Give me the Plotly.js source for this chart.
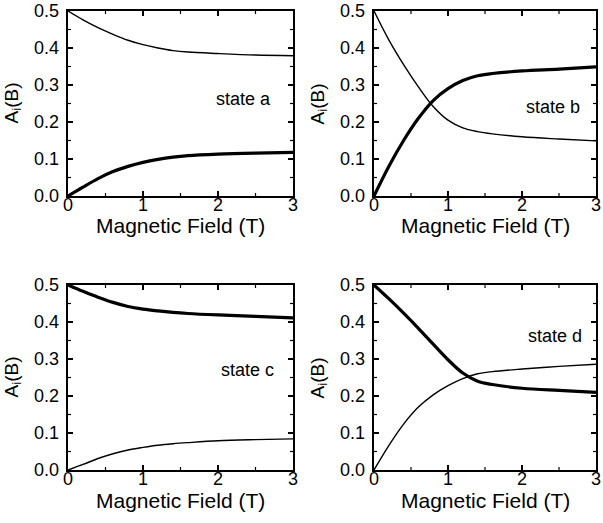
<!DOCTYPE html>
<html>
<head>
<meta charset="utf-8">
<script src="https://cdn.plot.ly/plotly-3.0.1.min.js"></script>
<style>html,body{margin:0;padding:0;background:#fff;}#chart{width:603px;height:523px;}</style>
</head>
<body>
<div id="chart"></div>
<script>
// Magnetic field values (T)
const fieldB = [0, 0.2, 0.4, 0.6, 0.8, 1.0, 1.2, 1.4, 1.6, 2.0, 2.5, 3.0];

// state a
const stateAThin  = [0.500, 0.476, 0.455, 0.437, 0.421, 0.409, 0.400, 0.393, 0.389, 0.385, 0.381, 0.379];
const stateAThick = [0.000, 0.024, 0.047, 0.066, 0.080, 0.091, 0.099, 0.105, 0.109, 0.113, 0.116, 0.118];
// state b
const stateBThin  = [0.500, 0.422, 0.355, 0.295, 0.242, 0.205, 0.184, 0.174, 0.168, 0.160, 0.154, 0.149];
const stateBThick = [0.000, 0.080, 0.150, 0.210, 0.258, 0.290, 0.312, 0.325, 0.331, 0.338, 0.343, 0.349];
// state c
const stateCThick = [0.500, 0.483, 0.467, 0.453, 0.442, 0.435, 0.430, 0.426, 0.423, 0.419, 0.415, 0.411];
const stateCThin  = [0.000, 0.015, 0.031, 0.044, 0.054, 0.061, 0.067, 0.071, 0.074, 0.079, 0.082, 0.084];
// state d
const stateDThick = [0.500, 0.463, 0.424, 0.383, 0.340, 0.298, 0.262, 0.240, 0.231, 0.221, 0.215, 0.210];
const stateDThin  = [0.000, 0.066, 0.124, 0.170, 0.203, 0.228, 0.247, 0.260, 0.266, 0.273, 0.280, 0.286];

const stateLabels = ['state a', 'state b', 'state c', 'state d'];
const labelX = [2.34, 2.42, 2.39, 2.45];
const labelY = [0.262, 0.24, 0.269, 0.362];

// tick values
const xMajorTicks = [0, 1, 2, 3];
const xMinorTicks = [0.5, 1.5, 2.5];
const yMajorTicks = [0, 0.1, 0.2, 0.3, 0.4, 0.5];
const yMinorTicks = [0.05, 0.15, 0.25, 0.35, 0.45];

const xTitle = 'Magnetic Field (T)';
const yTitle = 'A<sub>i</sub>(B)';

const FONT = 'Liberation Sans, Arial, Helvetica, sans-serif';
const THICK = 3.2, THIN = 1.4;
const MAJ = 5, MIN = 3;
const W = 603, H = 523;

function tr(y, w, xa, ya) {
  return {x: fieldB, y: y, xaxis: xa, yaxis: ya, mode: 'lines',
    line: {color: '#000', width: w, shape: 'spline', smoothing: 1},
    hoverinfo: 'skip', showlegend: false};
}

const data = [
  tr(stateAThin, THIN, 'x', 'y'), tr(stateAThick, THICK, 'x', 'y'),
  tr(stateBThin, THIN, 'x2', 'y2'), tr(stateBThick, THICK, 'x2', 'y2'),
  tr(stateCThick, THICK, 'x3', 'y3'), tr(stateCThin, THIN, 'x3', 'y3'),
  tr(stateDThick, THICK, 'x4', 'y4'), tr(stateDThin, THIN, 'x4', 'y4')
];

function xax(domain, anchor) {
  return {domain: domain, anchor: anchor, range: [0, 3],
    tickmode: 'array', tickvals: xMajorTicks, ticktext: xMajorTicks.map(String),
    ticks: 'inside', ticklen: MAJ, tickwidth: 1.5, tickcolor: '#000',
    showline: true, linewidth: 2.4, linecolor: '#000', mirror: 'allticks',
    showgrid: false, zeroline: false, layer: 'above traces',
    tickfont: {family: FONT, size: 18, color: '#000'},
    ticklabelstandoff: -9,
    title: {text: ''}};
}
function yax(domain, anchor) {
  return {domain: domain, anchor: anchor, range: [0, 0.5],
    tickmode: 'array', tickvals: yMajorTicks, ticktext: yMajorTicks.map(v => v.toFixed(1)),
    ticks: 'inside', ticklen: MAJ, tickwidth: 1.5, tickcolor: '#000',
    showline: true, linewidth: 2.4, linecolor: '#000', mirror: 'allticks',
    showgrid: false, zeroline: false, layer: 'above traces',
    tickfont: {family: FONT, size: 18, color: '#000'},
    ticklabelstandoff: 3,
    title: {text: ''}};
}

const xL = [68/W, 293/W], xR = [374/W, 596/W];
const yT = [1 - 196/H, 1 - 11/H], yB = [1 - 470/H, 1 - 285/H];
const panels = [
  {xa: 'x', ya: 'y', xd: xL, yd: yT},
  {xa: 'x2', ya: 'y2', xd: xR, yd: yT},
  {xa: 'x3', ya: 'y3', xd: xL, yd: yB},
  {xa: 'x4', ya: 'y4', xd: xR, yd: yB}
];

const annotations = [];
const shapes = [];
panels.forEach((p, i) => {
  annotations.push({text: stateLabels[i], x: labelX[i], y: labelY[i], xref: p.xa, yref: p.ya,
    showarrow: false, font: {family: FONT, size: 18, color: '#000'}, xanchor: 'center', yanchor: 'middle'});
  // x-axis title
  const bottomPx = (1 - p.yd[0]) * H;
  annotations.push({text: xTitle, xref: 'paper', yref: 'paper', x: (p.xd[0] + p.xd[1]) / 2,
    y: 1 - (bottomPx + 30) / H, showarrow: false, xanchor: 'center', yanchor: 'middle',
    font: {family: FONT, size: 21, color: '#000'}});
  // y-axis title
  annotations.push({text: yTitle, xref: 'paper', yref: 'paper', x: (p.xd[0] * W - 56) / W,
    y: (p.yd[0] + p.yd[1]) / 2, textangle: -90, showarrow: false, xanchor: 'center', yanchor: 'middle',
    font: {family: FONT, size: 19, color: '#000'}});
  // inward ticks on all four sides, lengths converted from pixels to domain fractions
  const wPx = (p.xd[1] - p.xd[0]) * W, hPx = (p.yd[1] - p.yd[0]) * H;
  const addX = (v, len, w) => {
    const f = len / hPx;
    shapes.push({type: 'line', layer: 'above', xref: p.xa, yref: p.ya + ' domain',
      x0: v, x1: v, y0: 0, y1: f, line: {color: '#000', width: w}});
    shapes.push({type: 'line', layer: 'above', xref: p.xa, yref: p.ya + ' domain',
      x0: v, x1: v, y0: 1, y1: 1 - f, line: {color: '#000', width: w}});
  };
  const addY = (v, len, w) => {
    const f = len / wPx;
    shapes.push({type: 'line', layer: 'above', xref: p.xa + ' domain', yref: p.ya,
      x0: 0, x1: f, y0: v, y1: v, line: {color: '#000', width: w}});
    shapes.push({type: 'line', layer: 'above', xref: p.xa + ' domain', yref: p.ya,
      x0: 1, x1: 1 - f, y0: v, y1: v, line: {color: '#000', width: w}});
  };
  xMinorTicks.forEach(v => addX(v, MIN, 1.2));
  yMinorTicks.forEach(v => addY(v, MIN, 1.2));
});

const layout = {
  width: W, height: H,
  margin: {l: 0, r: 0, t: 0, b: 0},
  paper_bgcolor: '#fff', plot_bgcolor: '#fff',
  xaxis: xax(xL, 'y'), yaxis: yax(yT, 'x'),
  xaxis2: xax(xR, 'y2'), yaxis2: yax(yT, 'x2'),
  xaxis3: xax(xL, 'y3'), yaxis3: yax(yB, 'x3'),
  xaxis4: xax(xR, 'y4'), yaxis4: yax(yB, 'x4'),
  annotations: annotations,
  shapes: shapes
};

Plotly.newPlot('chart', data, layout, {displayModeBar: false, staticPlot: true});
</script>
</body>
</html>
